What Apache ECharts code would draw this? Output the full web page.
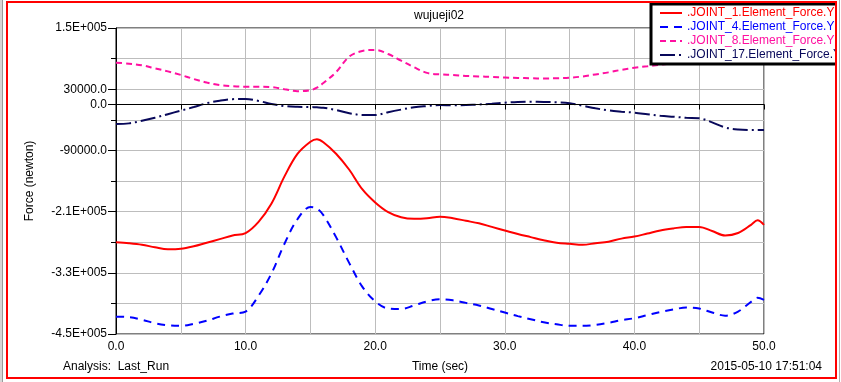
<!DOCTYPE html>
<html>
<head>
<meta charset="utf-8">
<script src="https://cdn.jsdelivr.net/npm/echarts@6/dist/echarts.min.js"></script>
<style>
html,body{margin:0;padding:0;background:#fff;}
#chart{width:841px;height:382px;}
</style>
</head>
<body>
<div id="chart"></div>
<script>
const times = [0,1,2,3,4,5,6,7,8,9,10,11,12,13,14,15,15.5,16,17,18,19,20,21,22,23,24,25,26,27,28,29,30,31,32,33,34,35,36,37,38,39,40,41,42,43,44,45,46,47,48,49,49.5,50];

const joint1 = [-270000,-272000,-275000,-280000,-284000,-283000,-278000,-271000,-264000,-257000,-252000,-230000,-194000,-141000,-97000,-73000,-68000,-74000,-97000,-128000,-166000,-192000,-211000,-221000,-224000,-223000,-220000,-223000,-228000,-233000,-240000,-247000,-254000,-260000,-266000,-271000,-273000,-275000,-272000,-269000,-263000,-259000,-253000,-247000,-243000,-240000,-240000,-248000,-257000,-252000,-236000,-227000,-236000];

const joint4 = [-416000,-417000,-422000,-429000,-433000,-434000,-430000,-424000,-416000,-410000,-406000,-375000,-331000,-273000,-225000,-201000,-204000,-217000,-261000,-311000,-357000,-386000,-400000,-401000,-394000,-386000,-382000,-384000,-389000,-394000,-401000,-408000,-415000,-421000,-427000,-431000,-434000,-434000,-432000,-428000,-423000,-419000,-413000,-407000,-402000,-398000,-400000,-408000,-414000,-406000,-387000,-379000,-383000];

const joint8 = [82000,80000,77000,71000,65000,58000,50000,43000,38000,36000,35000,35000,34000,30000,26000,28000,33000,42000,64000,94000,105000,107000,99000,86000,73000,62000,59000,58000,56000,55000,54000,53000,52000,51500,51000,51500,52600,55000,59000,63000,68000,72000,75000,78000,81000,83000,85000,86000,87000,88000,89000,89500,90000];

const joint17 = [-38000,-37000,-32000,-26000,-19000,-12000,-5000,2500,7500,10500,10800,7000,1000,-3000,-4500,-5000,-5500,-6300,-11000,-17000,-20500,-20600,-15000,-10000,-5500,-3000,-1000,-1500,-1000,0,1500,3500,5000,5500,5000,4300,2400,-2500,-7500,-11500,-14000,-16000,-19000,-22000,-24000,-26000,-27000,-35000,-45000,-49000,-50000,-50000,-50000];

const seriesNames = ['.JOINT_1.Element_Force.Y','.JOINT_4.Element_Force.Y','.JOINT_8.Element_Force.Y','.JOINT_17.Element_Force.Y'];
const yTickValues = [150000, 30000, -90000, -210000, -330000, -450000];
const yTickLabels = ['1.5E+005','30000.0','-90000.0','-2.1E+005','-3.3E+005','-4.5E+005'];
const xTickValues = [0,10,20,30,40,50];
const xTickLabels = ['0.0','10.0','20.0','30.0','40.0','50.0'];

const FONT = '"Liberation Sans", Arial, sans-serif';
const colors = ['#ff0000','#0000ff','#ff10a0','#08085a'];
const dashes = ['solid',[8,6],[6,4],[15,4,2,4]];
const values = [joint1, joint4, joint8, joint17];

const chart = echarts.init(document.getElementById('chart'), null, {renderer:'canvas'});

const series = values.map((vals, k) => ({
  name: seriesNames[k],
  type: 'line',
  data: times.map((t, i) => [t, vals[i]]),
  symbol: 'none',
  smooth: 0.35,
  lineStyle: {color: colors[k], width: 2, type: dashes[k]},
  itemStyle: {color: colors[k]},
  z: 3,
  animation: false
}));
series[0].markLine = {
  silent: true, symbol: 'none', animation: false,
  label: {show: false},
  lineStyle: {color: '#000', width: 1, type: 'solid'},
  data: [{yAxis: 0}]
};

const option = {
  backgroundColor: '#fff',
  animation: false,
  textStyle: {fontFamily: FONT},
  grid: {left: 116, right: 77, top: 28, bottom: 48, show: true, borderColor: '#000', borderWidth: 1, backgroundColor: 'transparent'},
  xAxis: {
    type: 'value', min: 0, max: 50, interval: 5,
    name: 'Time (sec)', nameLocation: 'middle', nameGap: 27,
    nameTextStyle: {color: '#000', fontSize: 12, fontFamily: FONT},
    axisLine: {show: true, lineStyle: {color: '#000', width: 1}},
    axisTick: {show: true, length: 5, lineStyle: {color: '#000'}},
    axisLabel: {
      color: '#000', fontSize: 12, fontFamily: FONT, margin: 7,
      formatter: v => { const i = xTickValues.indexOf(v); return i >= 0 ? xTickLabels[i] : ''; }
    },
    splitLine: {show: true, lineStyle: {color: '#bdbdbd', width: 1}}
  },
  yAxis: [
    {
      type: 'value', min: -450000, max: 150000, interval: 60000, position: 'left',
      name: 'Force (newton)', nameLocation: 'middle', nameGap: 80,
      nameTextStyle: {color: '#000', fontSize: 12, fontFamily: FONT},
      axisLine: {show: true, lineStyle: {color: '#000', width: 1}},
      axisTick: {show: true, length: 5, lineStyle: {color: '#000'}},
      axisLabel: {show: false},
      splitLine: {show: true, lineStyle: {color: '#bdbdbd', width: 1}}
    },
    {
      type: 'value', min: -450000, max: 150000, interval: 120000, position: 'left',
      axisLine: {show: false},
      axisTick: {show: true, length: 8, lineStyle: {color: '#000'}},
      axisLabel: {
        color: '#000', fontSize: 12, fontFamily: FONT, margin: 9,
        formatter: v => { const i = yTickValues.indexOf(v); return i >= 0 ? yTickLabels[i] : ''; }
      },
      splitLine: {show: false}
    },
    {
      type: 'value', min: -450000, max: 150000, interval: 450000, position: 'left',
      axisLine: {show: false},
      axisTick: {show: true, length: 8, lineStyle: {color: '#000'}},
      axisLabel: {
        color: '#000', fontSize: 12, fontFamily: FONT, margin: 9,
        formatter: v => (v === 0 ? '0.0' : '')
      },
      splitLine: {show: false}
    }
  ],
  legend: {
    orient: 'vertical', left: 651, top: 4,
    itemWidth: 22, itemHeight: 12, itemGap: 2,
    padding: [3, 8, 3, 8],
    backgroundColor: '#fff', borderColor: '#000', borderWidth: 3, borderRadius: 0,
    textStyle: {fontSize: 12, fontFamily: FONT},
    itemStyle: {opacity: 0},
    selectedMode: false,
    z: 10,
    data: seriesNames.map((n, k) => ({name: n, textStyle: {color: colors[k]}}))
  },
  graphic: [
    {type: 'text', z: 100, left: 440 - 26, top: 10, style: {text: 'wujueji02', fill: '#000', font: '12px ' + FONT}},
    {type: 'text', z: 100, left: 63, top: 361, style: {text: 'Analysis:  Last_Run', fill: '#000', font: '12px ' + FONT}},
    {type: 'text', z: 100, right: 19, top: 361, style: {text: '2015-05-10 17:51:04', fill: '#000', font: '12px ' + FONT}},
    {type: 'rect', z: 100, silent: true, shape: {x: 837, y: 0, width: 4, height: 382}, style: {fill: '#fff'}},
    {type: 'rect', z: 101, silent: true, shape: {x: 0, y: 0, width: 2, height: 382}, style: {fill: '#d6d6d6'}},
    {type: 'line', z: 101, silent: true, shape: {x1: 2.5, y1: 0, x2: 2.5, y2: 382}, style: {stroke: '#9a9a9a', lineWidth: 1}},
    {type: 'line', z: 101, silent: true, shape: {x1: 839.5, y1: 0, x2: 839.5, y2: 382}, style: {stroke: '#b0b0b0', lineWidth: 1}},
    {type: 'rect', z: 102, silent: true, shape: {x: 7, y: 2, width: 829, height: 376}, style: {fill: 'none', stroke: '#ff0000', lineWidth: 2}}
  ],
  series: series
};
chart.setOption(option);
</script>
</body>
</html>
